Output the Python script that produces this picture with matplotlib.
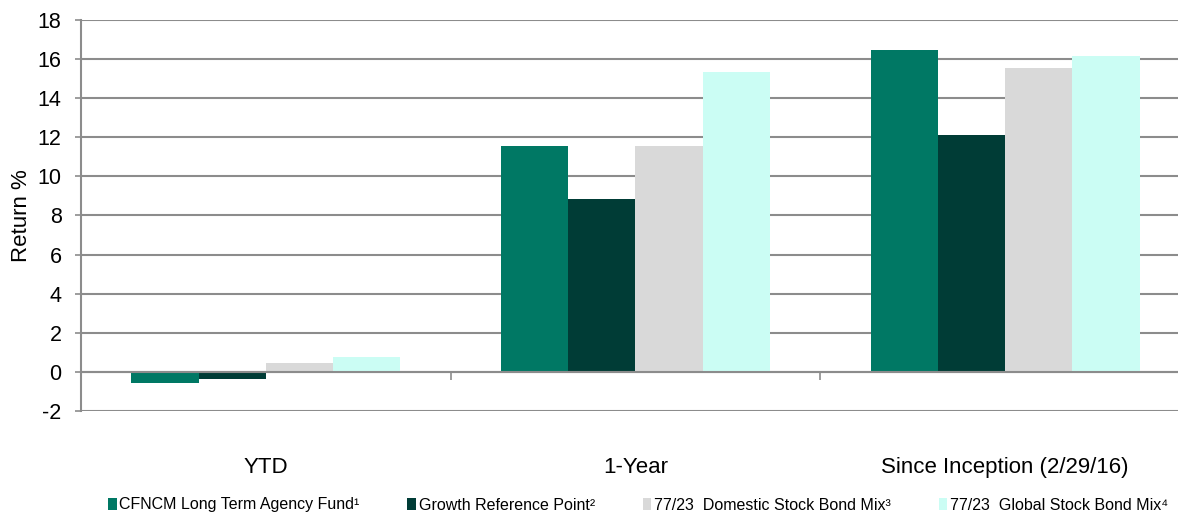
import matplotlib
matplotlib.use("Agg")
import matplotlib.pyplot as plt
import numpy as np
from matplotlib.patches import Patch

plt.rcParams['font.family'] = ['Liberation Sans', 'DejaVu Sans']

categories = ["YTD", "1-Year", "Since Inception (2/29/16)"]
series_names = ["CFNCM Long Term Agency Fund¹", "Growth Reference Point²",
                "77/23  Domestic Stock Bond Mix³", "77/23  Global Stock Bond Mix⁴"]
fund = [-0.56, 11.57, 16.46]
growth = [-0.37, 8.86, 12.10]
domestic = [0.44, 11.55, 15.52]
global_mix = [0.77, 15.34, 16.16]
colors = ["#007864", "#003C36", "#D9D9D9", "#CBFDF4"]
yticks = list(range(-2, 19, 2))

W, H = 1178, 518
fig = plt.figure(figsize=(W / 100, H / 100), dpi=100)
left, right, top, bottom = 81, 1190, 20, 411
ax = fig.add_axes([left / W, 1 - bottom / H, (right - left) / W, (bottom - top) / H])

x = np.arange(len(categories))
bw = 0.182
allv = [fund, growth, domestic, global_mix]
for i, (vals, c, name) in enumerate(zip(allv, colors, series_names)):
    ax.bar(x + (i - 1.5) * bw, vals, width=bw, color=c, label=name, zorder=3)

ax.set_xlim(-0.5, 2.5)
ax.set_ylim(-2, 18)
ax.set_yticks(yticks)
ax.set_yticklabels([str(v) for v in yticks], fontsize=15.5)
ax.yaxis.grid(True, color="#8C8C8C", linewidth=1.5, zorder=0)
ax.set_axisbelow(True)

for s in ["top", "right"]:
    ax.spines[s].set_visible(False)
ax.spines["left"].set_color("#8C8C8C")
ax.spines["left"].set_linewidth(1.5)
ax.spines["bottom"].set_position(("data", 0))
ax.spines["bottom"].set_color("#8C8C8C")
ax.spines["bottom"].set_linewidth(1.5)
ax.spines["bottom"].set_zorder(4)

ax.tick_params(axis="y", direction="out", length=4, width=1.2, color="#8C8C8C", pad=10)
ax.set_xticks(x)
ax.set_xticklabels(categories, fontsize=16)
ax.tick_params(axis="x", which="major", length=0, pad=61)
ax.set_xticks([0.5, 1.5], minor=True)
ax.tick_params(axis="x", which="minor", direction="out", length=6, width=1.2, color="#8C8C8C")

ax.set_ylabel("Return %", fontsize=16)
ax.yaxis.set_label_coords(-49 / (right - left), 0.5)

handles = [Patch(facecolor=c, edgecolor="none") for c in colors]
fig.legend(handles, series_names, loc="center left", bbox_to_anchor=(108 / W, 1 - 505 / H),
           ncol=4, frameon=False, fontsize=11.5, handlelength=0.55, handleheight=0.8,
           handletextpad=0.15, columnspacing=3.0, borderpad=0, borderaxespad=0)

fig.savefig("out.png", dpi=100)
